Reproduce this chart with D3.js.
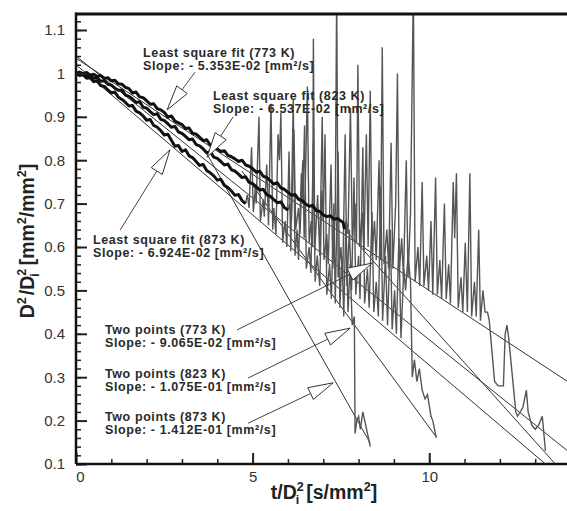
<!DOCTYPE html>
<html>
<head>
<meta charset="utf-8">
<script src="https://cdn.jsdelivr.net/npm/d3@7"></script>
<style>
  body { margin: 0; background: #fff; }
  svg { font-family: "Liberation Sans", Arial, sans-serif; }
</style>
</head>
<body>
<svg id="chart" width="567" height="511"></svg>
<script>
// clean (thick) part of each run, [t/Di^2, D^2/Di^2]
const thick773 = [[0,1.000],[0.1,1.003],[0.2,0.999],[0.3,1.002],[0.4,0.996],[0.5,0.998],[0.6,0.993],[0.7,0.995],[0.8,0.988],[0.9,0.990],
  [1.0,0.983],[1.1,0.984],[1.2,0.976],[1.3,0.975],[1.4,0.968],[1.5,0.965],[1.6,0.955],[1.7,0.957],[1.8,0.946],[1.9,0.944],
  [2.0,0.937],[2.1,0.929],[2.2,0.930],[2.3,0.919],[2.4,0.916],[2.5,0.910],[2.6,0.899],[2.7,0.902],[2.8,0.890],[2.9,0.886],
  [3.0,0.882],[3.1,0.873],[3.2,0.874],[3.3,0.862],[3.4,0.860],[3.5,0.853],[3.6,0.845],[3.7,0.847],[3.8,0.835],[3.9,0.833],
  [4.0,0.826],[4.1,0.820],[4.2,0.822],[4.3,0.811],[4.4,0.808],[4.5,0.803],[4.6,0.797],[4.7,0.800],[4.8,0.789],[4.9,0.786],
  [5.0,0.781],[5.1,0.772],[5.2,0.775],[5.3,0.763],[5.4,0.760],[5.5,0.753],[5.6,0.745],[5.7,0.748],[5.8,0.736],[5.9,0.733],
  [6.0,0.726],[6.1,0.719],[6.2,0.721],[6.3,0.710],[6.4,0.707],[6.5,0.699],[6.6,0.694],[6.7,0.696],[6.8,0.684],[6.9,0.682],
  [7.0,0.674],[7.1,0.670],[7.2,0.672],[7.3,0.664],[7.4,0.666],[7.5,0.660],[7.56,0.657],[7.6,0.642]]
const thick823 = [[0,1.000],[0.1,0.998],[0.2,1.000],[0.3,0.993],[0.4,0.995],[0.5,0.989],[0.6,0.990],[0.7,0.982],[0.8,0.983],[0.9,0.975],
  [1.0,0.973],[1.1,0.966],[1.2,0.961],[1.3,0.962],[1.4,0.950],[1.5,0.947],[1.6,0.941],[1.7,0.933],[1.8,0.935],[1.9,0.922],
  [2.0,0.920],[2.1,0.912],[2.2,0.905],[2.3,0.907],[2.4,0.894],[2.5,0.891],[2.6,0.884],[2.7,0.876],[2.8,0.878],[2.9,0.865],
  [3.0,0.862],[3.1,0.855],[3.2,0.847],[3.3,0.849],[3.4,0.836],[3.5,0.833],[3.6,0.826],[3.7,0.817],[3.8,0.820],[3.9,0.807],
  [4.0,0.804],[4.1,0.797],[4.2,0.789],[4.3,0.791],[4.4,0.778],[4.5,0.775],[4.6,0.768],[4.7,0.760],[4.8,0.762],[4.9,0.749],
  [5.0,0.746],[5.1,0.739],[5.2,0.731],[5.3,0.733],[5.4,0.720],[5.5,0.717],[5.6,0.709],[5.7,0.702],[5.8,0.704],[5.9,0.691],[6.0,0.685]]
const thick873 = [[0,1.000],[0.1,0.995],[0.2,0.997],[0.3,0.989],[0.4,0.990],[0.5,0.981],[0.6,0.983],[0.7,0.972],[0.8,0.970],[0.9,0.962],
  [1.0,0.955],[1.1,0.957],[1.2,0.945],[1.3,0.940],[1.4,0.933],[1.5,0.925],[1.6,0.926],[1.7,0.913],[1.8,0.909],[1.9,0.902],
  [2.0,0.892],[2.1,0.894],[2.2,0.880],[2.3,0.876],[2.4,0.868],[2.5,0.858],[2.6,0.860],[2.7,0.846],[2.8,0.832],[2.9,0.834],
  [3.0,0.820],[3.1,0.824],[3.2,0.810],[3.3,0.806],[3.4,0.797],[3.5,0.788],[3.6,0.790],[3.7,0.776],[3.8,0.771],[3.9,0.764],
  [4.0,0.754],[4.1,0.756],[4.2,0.742],[4.3,0.737],[4.4,0.729],[4.5,0.719],[4.6,0.721],[4.7,0.707],[4.8,0.700]]

// noisy tail of each run
const noisy873 = [[4.8,0.70],[4.85,0.72],[4.9,0.69],[4.97,0.83],[5.02,0.68],[5.08,0.74],[5.1,0.70],[5.18,0.90],[5.22,0.66],
  [5.3,0.71],[5.33,0.67],[5.4,0.79],[5.45,0.65],[5.52,0.93],[5.57,0.64],[5.6,0.69],[5.66,0.63],[5.72,0.86],[5.76,0.80],
  [5.8,0.91],[5.85,0.61],[5.92,0.66],[5.97,0.60],[6.03,0.82],[6.08,0.59],[6.15,0.94],[6.2,0.58],[6.26,0.64],[6.3,0.57],
  [6.38,0.77],[6.42,0.70],[6.47,0.88],[6.52,0.55],[6.6,0.60],[6.65,0.54],[6.72,0.84],[6.77,0.52],[6.83,0.58],[6.9,0.51],
  [6.96,0.73],[7.0,0.66],[7.05,0.86],[7.1,0.49],[7.18,0.56],[7.23,0.48],[7.3,0.70],[7.34,0.47],[7.42,0.82],[7.47,0.46],
  [7.53,0.58],[7.58,0.44],[7.64,0.66],[7.7,0.45],[7.76,0.56],[7.82,0.42],[7.88,0.44],[7.9,0.17],[7.95,0.20],[8.0,0.21],
  [8.05,0.18],[8.12,0.22],[8.2,0.19],[8.33,0.14]]
const noisy823 = [[6.0,0.685],[6.05,0.70],[6.1,0.66],[6.17,0.87],[6.22,0.64],[6.3,0.69],[6.34,0.63],[6.42,0.80],[6.46,0.62],
  [6.55,0.97],[6.6,0.61],[6.66,0.66],[6.7,0.60],[6.72,1.08],[6.76,0.59],[6.84,0.72],[6.9,0.58],[6.97,0.90],[7.02,0.57],
  [7.1,0.63],[7.14,0.56],[7.22,0.79],[7.27,0.55],[7.34,0.68],[7.38,1.20],[7.42,0.53],[7.5,0.60],[7.55,0.52],[7.62,0.86],
  [7.67,0.51],[7.74,0.64],[7.8,0.50],[7.87,0.76],[7.92,0.49],[8.0,0.58],[8.04,0.48],[8.12,0.83],[8.17,0.47],[8.25,0.55],
  [8.3,0.46],[8.38,0.68],[8.43,0.45],[8.5,0.52],[8.56,0.44],[8.63,0.74],[8.68,0.43],[8.76,0.58],[8.82,0.42],[8.9,0.64],
  [8.95,0.41],[9.02,0.50],[9.07,0.40],[9.14,0.62],[9.2,0.39],[9.28,0.55],[9.33,0.50],[9.4,0.58],[9.47,0.52],[9.52,0.30],
  [9.58,0.34],[9.65,0.29],[9.72,0.32],[9.8,0.27],[9.88,0.25],[9.95,0.26],[10.05,0.21],[10.1,0.20],[10.2,0.16]]
const noisy773 = [[7.6,0.642],[7.65,0.66],[7.7,0.63],[7.77,0.92],[7.82,0.62],[7.9,0.70],[7.94,0.61],[7.98,1.02],[8.03,0.60],
  [8.1,0.68],[8.15,0.59],[8.22,0.86],[8.27,0.60],[8.33,0.96],[8.38,0.58],[8.45,0.66],[8.5,0.57],[8.58,0.80],[8.62,0.57],
  [8.67,1.06],[8.72,0.56],[8.8,0.64],[8.85,0.55],[8.92,0.84],[8.97,0.55],[9.05,0.70],[9.1,1.00],[9.15,0.54],[9.22,0.62],
  [9.27,0.53],[9.35,0.80],[9.4,0.53],[9.47,0.68],[9.55,1.20],[9.6,0.52],[9.68,0.60],[9.73,0.51],[9.8,0.75],[9.85,0.51],
  [9.93,0.58],[9.98,0.50],[10.05,0.66],[10.1,0.49],[10.18,0.76],[10.23,0.49],[10.3,0.57],[10.35,0.48],[10.43,0.70],
  [10.48,0.48],[10.55,0.56],[10.6,0.47],[10.68,0.75],[10.72,0.62],[10.77,0.77],[10.82,0.46],[10.9,0.53],[10.95,0.45],
  [11.02,0.61],[11.08,0.45],[11.15,0.77],[11.2,0.44],[11.28,0.52],[11.33,0.44],[11.4,0.64],[11.45,0.43],[11.52,0.50],
  [11.58,0.45],[11.65,0.45],[11.7,0.43],[11.85,0.29],[11.95,0.28],[12.1,0.28],[12.15,0.40],[12.2,0.42],[12.25,0.39],
  [12.45,0.22],[12.5,0.21],[12.65,0.23],[12.75,0.27],[12.8,0.22],[12.9,0.19],[13.0,0.18],[13.1,0.19],[13.2,0.21],[13.29,0.13]]

// straight fit lines: [t0, v0, t1, v1]
const fitLines = [
  [0, 1.035, 14, 1.035 - 0.05353*14],   // least square 773
  [0, 1.040, 14, 1.040 - 0.06537*14],   // least square 823
  [0, 1.020, 13.29, 0.100],             // least square 873
  [7.56, 0.645, 13.57, 0.100],          // two points 773
  [4.7, 0.775, 10.2, 0.162],            // two points 823
  [3.6, 0.830, 8.33, 0.148]             // two points 873
]

const yTicks = [0.1,0.2,0.3,0.4,0.5,0.6,0.7,0.8,0.9,1,1.1]
const xTicks = [0,5,10]

// annotations: label position (t,v), two text lines, arrow from (t,v) to tip (t,v)
const labels = [
  {t:1.90, v:1.038, l1:"Least square fit (773 K)", l2:"Slope: - 5.353E-02 [mm²/s]", a:[3.37,1.003,2.58,0.916]},
  {t:3.88, v:0.939, l1:"Least square fit (823 K)", l2:"Slope: - 6.537E-02 [mm²/s]", a:[4.45,0.900,3.71,0.807]},
  {t:0.48, v:0.607, l1:"Least square fit (873 K)", l2:"Slope: - 6.924E-02 [mm²/s]", a:[1.25,0.639,2.66,0.824]},
  {t:0.82, v:0.400, l1:"Two points  (773 K)", l2:"Slope: - 9.065E-02 [mm²/s]", a:[4.56,0.409,8.39,0.563]},
  {t:0.82, v:0.299, l1:"Two points  (823 K)", l2:"Slope: - 1.075E-01 [mm²/s]", a:[4.87,0.298,7.76,0.413]},
  {t:0.82, v:0.198, l1:"Two points  (873 K)", l2:"Slope: - 1.412E-01 [mm²/s]", a:[4.87,0.194,7.28,0.287]}
]

const svg = d3.select("#chart")
const padL = 76, padR = 567, padT = 14, padB = 464

const x = d3.scaleLinear().domain([0, 13.9]).range([padL, padR])
const y = d3.scaleLinear().domain([0.1, 1.1]).range([padB, 30])

svg.append("clipPath").attr("id","clip").append("rect")
  .attr("x",padL).attr("y",padT).attr("width",padR-padL).attr("height",padB-padT)

const lineGen = d3.line().x(d => x(d[0])).y(d => y(d[1]))
const plot = svg.append("g").attr("clip-path","url(#clip)")

// fits
plot.selectAll(".fit").data(fitLines).join("line").attr("class","fit")
  .attr("x1",d => x(d[0])).attr("y1",d => y(d[1]))
  .attr("x2",d => x(d[2])).attr("y2",d => y(d[3]))
  .attr("stroke","#333").attr("stroke-width",1)

// noisy parts
;[noisy873, noisy823, noisy773].forEach(function(s){
  plot.append("path").datum(s).attr("d",lineGen)
    .attr("fill","none").attr("stroke","#555").attr("stroke-width",1.4)
})
// thick parts
;[thick873, thick823, thick773].forEach(function(s){
  plot.append("path").datum(s).attr("d",lineGen)
    .attr("fill","none").attr("stroke","#111").attr("stroke-width",3)
    .attr("stroke-linejoin","round")
})

// axes
const yMinor = d3.range(0.1, 1.131, 0.02)
const ym = svg.append("g").attr("transform","translate("+padL+",0)")
  .call(d3.axisLeft(y).tickValues(yMinor).tickSize(-5).tickFormat(""))
ym.select(".domain").remove()
ym.selectAll(".tick line").attr("stroke","#222").attr("stroke-width",1.5)

const ya = svg.append("g").attr("transform","translate("+padL+",0)")
  .call(d3.axisLeft(y).tickValues(yTicks).tickSize(-11).tickPadding(11).tickFormat(d3.format("~g")))
ya.select(".domain").remove()
ya.selectAll(".tick line").attr("stroke","#222").attr("stroke-width",2)
ya.selectAll(".tick text").attr("font-size",15).attr("fill","#333").attr("font-family","Liberation Sans, Arial")

const xm = svg.append("g").attr("transform","translate(0,"+padB+")")
  .call(d3.axisBottom(x).tickValues(d3.range(1,14)).tickSize(-5).tickFormat(""))
xm.select(".domain").remove()
xm.selectAll(".tick line").attr("stroke","#222").attr("stroke-width",1.5)

const xa = svg.append("g").attr("transform","translate(0,"+padB+")")
  .call(d3.axisBottom(x).tickValues(xTicks).tickSize(-11).tickPadding(7).tickFormat(d3.format("d")))
xa.select(".domain").remove()
xa.selectAll(".tick line").attr("stroke","#222").attr("stroke-width",2)
xa.selectAll(".tick text").attr("font-size",15).attr("fill","#333").attr("font-family","Liberation Sans, Arial")
xa.selectAll(".tick text").filter(d => d === 0).attr("dx",4)

// frame lines
svg.append("line").attr("x1",padL).attr("x2",padR).attr("y1",padT).attr("y2",padT).attr("stroke","#111").attr("stroke-width",3)
svg.append("line").attr("x1",padL).attr("x2",padL).attr("y1",padT-1.5).attr("y2",padB).attr("stroke","#111").attr("stroke-width",2.5)
svg.append("line").attr("x1",padL).attr("x2",padR).attr("y1",padB).attr("y2",padB).attr("stroke","#111").attr("stroke-width",2.5)

// annotations
const ann = svg.append("g")
labels.forEach(function(d){
  const a = d.a
  const x1 = x(a[0]), y1 = y(a[1]), x2 = x(a[2]), y2 = y(a[3])
  const ang = Math.atan2(y2-y1, x2-x1)
  const len = 25, hw = 6.5
  const bx = x2 - len*Math.cos(ang), by = y2 - len*Math.sin(ang)
  ann.append("line").attr("x1",x1).attr("y1",y1).attr("x2",bx).attr("y2",by)
    .attr("stroke","#444").attr("stroke-width",1)
  const p = [[x2,y2],
    [bx + hw*Math.sin(ang), by - hw*Math.cos(ang)],
    [bx - hw*Math.sin(ang), by + hw*Math.cos(ang)]]
  ann.append("polygon").attr("points",p.map(q => q.join(",")).join(" "))
    .attr("fill","#fff").attr("stroke","#333").attr("stroke-width",1)
  const t = ann.append("text").attr("x",x(d.t)).attr("y",y(d.v))
    .attr("font-size",12.5).attr("font-weight","bold").attr("fill","#2a2a2a").attr("letter-spacing",0.6)
  t.append("tspan").attr("x",x(d.t)).text(d.l1)
  t.append("tspan").attr("x",x(d.t)).attr("dy",13).text(d.l2)
})

// axis titles
const xt = svg.append("text").attr("x",324).attr("y",499).attr("text-anchor","middle")
  .attr("font-size",19.5).attr("font-weight","bold").attr("fill","#222")
xt.append("tspan").text("t/D")
xt.append("tspan").attr("font-size",12.5).attr("dy",-8).text("2")
xt.append("tspan").attr("font-size",12.5).attr("dx",-8).attr("dy",13).text("i")
xt.append("tspan").attr("dx",7).attr("dy",-5).text("[s/mm")
xt.append("tspan").attr("font-size",12.5).attr("dy",-8).text("2")
xt.append("tspan").attr("dy",8).text("]")

const yt = svg.append("text").attr("transform","translate(34,241) rotate(-90)").attr("text-anchor","middle")
  .attr("font-size",19.5).attr("font-weight","bold").attr("fill","#222")
yt.append("tspan").text("D")
yt.append("tspan").attr("font-size",12.5).attr("dy",-8).text("2")
yt.append("tspan").attr("dx",2).attr("dy",8).text("/D")
yt.append("tspan").attr("font-size",12.5).attr("dy",-8).text("2")
yt.append("tspan").attr("font-size",12.5).attr("dx",-8).attr("dy",13).text("i")
yt.append("tspan").attr("dx",8).attr("dy",-5).text("[mm")
yt.append("tspan").attr("font-size",12.5).attr("dy",-8).text("2")
yt.append("tspan").attr("dy",8).text("/mm")
yt.append("tspan").attr("font-size",12.5).attr("dy",-8).text("2")
yt.append("tspan").attr("dy",8).text("]")
</script>
</body>
</html>
